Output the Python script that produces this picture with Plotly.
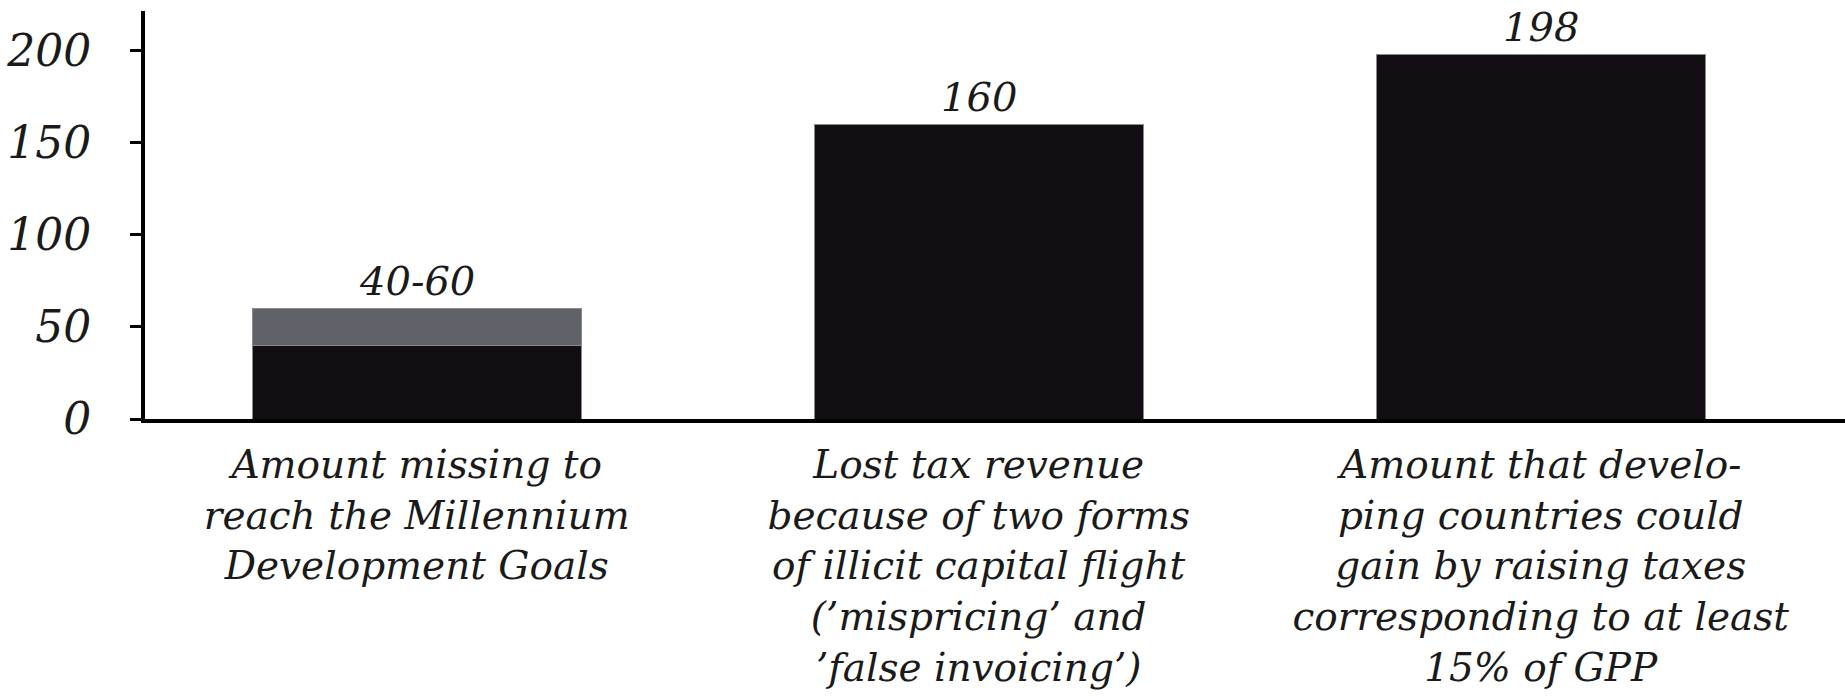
import plotly.graph_objects as go

categories = [
    "Amount missing to<br>reach the Millennium<br>Development Goals",
    "Lost tax revenue<br>because of two forms<br>of illicit capital flight<br>(’mispricing’ and<br>’false invoicing’)",
    "Amount that develo-<br>ping countries could<br>gain by raising taxes<br>corresponding to at least<br>15% of GPP",
]
base_values = [40, 160, 198]
range_extra = [20]          # extra range on top of first bar (40 -> 60)
value_labels = ["40-60", "160", "198"]
y_ticks = [0, 50, 100, 150, 200]

DARK = "#110d12"
GRAY = "#5f6268"
FONT = "DejaVu Serif"

fig = go.Figure()
fig.add_trace(go.Bar(
    x=categories, y=base_values, width=0.585,
    marker=dict(color=DARK, line=dict(color="#8a8a8a", width=1)),
    hoverinfo="skip",
))
fig.add_trace(go.Bar(
    x=categories[:1], y=range_extra, width=0.585,
    marker=dict(color=GRAY, line=dict(color="#8a8a8a", width=1)),
    hoverinfo="skip",
))

totals = [base_values[0] + range_extra[0]] + base_values[1:]
for cat, tot, lab in zip(categories, totals, value_labels):
    fig.add_annotation(
        x=cat, y=tot, text=lab, showarrow=False, yanchor="bottom", yshift=4,
        borderpad=0,
        font=dict(family=FONT, size=40, color="#1a1a1a", style="italic"),
    )

fig.update_layout(
    barmode="stack",
    width=1845, height=698,
    margin=dict(l=145, r=0, t=11, b=279, pad=0),
    paper_bgcolor="white", plot_bgcolor="white",
    showlegend=False,
    font=dict(family=FONT, color="#1a1a1a", style="italic"),
)
fig.update_xaxes(
    range=[-0.4835, 2.5415],
    showline=True, linewidth=4, linecolor="black",
    ticks="", showgrid=False, zeroline=False,
    ticklabelstandoff=8,
    tickfont=dict(family=FONT, size=39, style="italic", color="#1a1a1a"),
    fixedrange=True,
)
fig.update_yaxes(
    range=[0, 221.7],
    tickvals=y_ticks,
    showline=True, linewidth=4, linecolor="black",
    ticks="outside", ticklen=11, tickwidth=3, tickcolor="black",
    ticklabelstandoff=30,
    showgrid=False, zeroline=False,
    tickfont=dict(family=FONT, size=44, style="italic", color="#1a1a1a"),
    fixedrange=True,
)

fig.write_html("out.html", config={"displayModeBar": False})
